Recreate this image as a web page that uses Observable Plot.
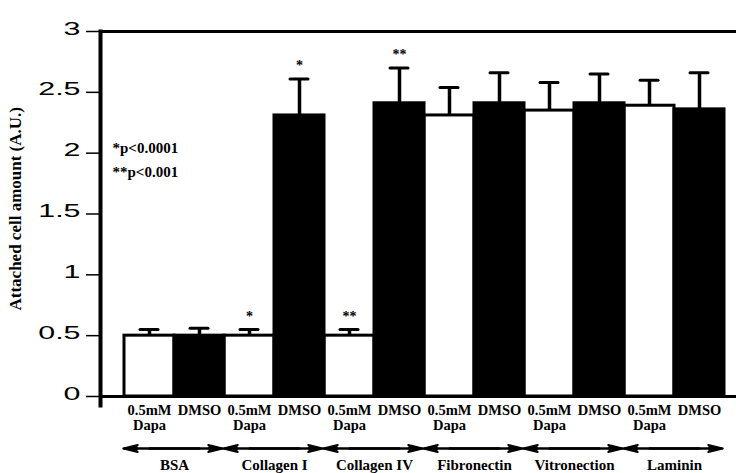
<!DOCTYPE html>
<html><head><meta charset="utf-8">
<script src="https://cdn.jsdelivr.net/npm/d3@7"></script>
<script src="https://cdn.jsdelivr.net/npm/@observablehq/plot@0.6"></script>
<style>body{margin:0;background:#fff}</style>
</head><body><div id="chart"></div>
<script>
const groups = ["BSA", "Collagen I", "Collagen IV", "Fibronectin", "Vitronection", "Laminin"];
const treatments = ["Dapa", "DMSO"];
const treatmentLabels = ["0.5mM\nDapa", "DMSO"];
const dapaMeans = [0.50, 0.50, 0.50, 2.31, 2.35, 2.39];
const dapaErr   = [0.05, 0.05, 0.05, 0.23, 0.23, 0.21];
const dmsoMeans = [0.50, 2.31, 2.41, 2.41, 2.41, 2.36];
const dmsoErr   = [0.06, 0.30, 0.29, 0.25, 0.24, 0.30];
const dapaSig = ["", "*", "**", "", "", ""];
const dmsoSig = ["", "*", "**", "", "", ""];
const yTicks = [0, 0.5, 1, 1.5, 2, 2.5, 3];
const yLabel = "Attached cell amount (A.U.)";
const notes = ["*p<0.0001", "**p<0.001"];

const rows = [];
groups.forEach((g, i) => {
  rows.push({group: g, treatment: treatments[0], key: g + "|" + treatments[0], mean: dapaMeans[i], err: dapaErr[i], sig: dapaSig[i]});
  rows.push({group: g, treatment: treatments[1], key: g + "|" + treatments[1], mean: dmsoMeans[i], err: dmsoErr[i], sig: dmsoSig[i]});
});
const keys = rows.map(d => d.key);
const labelOf = new Map(rows.map(d => [d.key, treatmentLabels[treatments.indexOf(d.treatment)]]));
const dapaRows = rows.filter(d => d.treatment === treatments[0]);
const dmsoRows = rows.filter(d => d.treatment === treatments[1]);
const otherKey = d => d.group + "|" + treatments[1];

const serif = "'Liberation Serif', 'Times New Roman', serif";

const chart = Plot.plot({
  width: 736, height: 473,
  marginTop: 31, marginBottom: 68, marginLeft: 100, marginRight: 0,
  style: {background: "white", overflow: "visible", color: "black"},
  x: {type: "band", domain: keys, range: [124, 724], padding: 0},
  y: {domain: [-0.074, 3]},
  marks: [
    Plot.barY(dapaRows, {x: "key", y: "mean", fill: "white", stroke: "black", strokeWidth: 3}),
    Plot.barY(dmsoRows, {x: "key", y: "mean", fill: "black", stroke: "black", strokeWidth: 3}),
    Plot.ruleX(rows, {x: "key", y1: "mean", y2: d => d.mean + d.err, strokeWidth: 3.5}),
    Plot.tickY(rows, {x: "key", y: d => d.mean + d.err, strokeWidth: 3, strokeLinecap: "round", insetLeft: 16, insetRight: 16}),
    Plot.text(rows.filter(d => d.sig), {x: "key", y: d => d.mean + d.err, text: "sig", dy: -9, lineAnchor: "bottom",
      fontFamily: serif, fontWeight: "bold", fontSize: 14}),
    Plot.ruleY([0], {strokeWidth: 3}),
    Plot.frame({anchor: "top", strokeWidth: 3}),
    Plot.frame({anchor: "left", strokeWidth: 4}),
    Plot.axisY({ticks: yTicks, tickFormat: d => String(d), tickSize: 14, tickPadding: 6, strokeWidth: 1.5,
      fontFamily: "'Liberation Sans', Arial, sans-serif", fontSize: 19, label: null}),
    Plot.axisX({ticks: keys, tickFormat: k => labelOf.get(k), tickSize: 0, tickPadding: -2, lineHeight: 1.07,
      fontFamily: serif, fontWeight: "bold", fontSize: 14.5, label: null}),
    Plot.arrow(dapaRows, {x1: "key", x2: otherKey, y: 0, dy: 52, insetEnd: -23, headLength: 11, headAngle: 28, strokeWidth: 2}),
    Plot.arrow(dapaRows, {x1: otherKey, x2: "key", y: 0, dy: 52, insetEnd: -26, headLength: 11, headAngle: 28, strokeWidth: 2}),
    Plot.arrow(dapaRows, {x1: "key", x2: otherKey, y: 0, dy: 52, insetEnd: -23, headLength: 10, headAngle: 12, strokeWidth: 2}),
    Plot.arrow(dapaRows, {x1: otherKey, x2: "key", y: 0, dy: 52, insetEnd: -26, headLength: 10, headAngle: 12, strokeWidth: 2}),
    Plot.text(dapaRows, {x: "key", y: 0, text: "group", dx: 25, dy: 74, lineAnchor: "bottom",
      fontFamily: serif, fontWeight: "bold", fontSize: 15}),
    Plot.text([notes.join("\n")], {frameAnchor: "top-left", text: d => d, textAnchor: "start", lineAnchor: "top",
      lineHeight: 1.6, dx: 12, dy: 104, fontFamily: serif, fontWeight: "bold", fontSize: 15}),
    Plot.text([yLabel], {frameAnchor: "bottom-left", text: d => d, rotate: -90, textAnchor: "start", dx: -80, dy: -95,
      fontFamily: serif, fontWeight: "bold", fontSize: 17})
  ]
});

chart.querySelectorAll('g[aria-label="y-axis tick label"] text').forEach(t => {
  t.setAttribute("transform", (t.getAttribute("transform") || "") + " translate(0,-3) scale(1.6,1)");
});

document.getElementById("chart").appendChild(chart);
</script>
</body></html>
